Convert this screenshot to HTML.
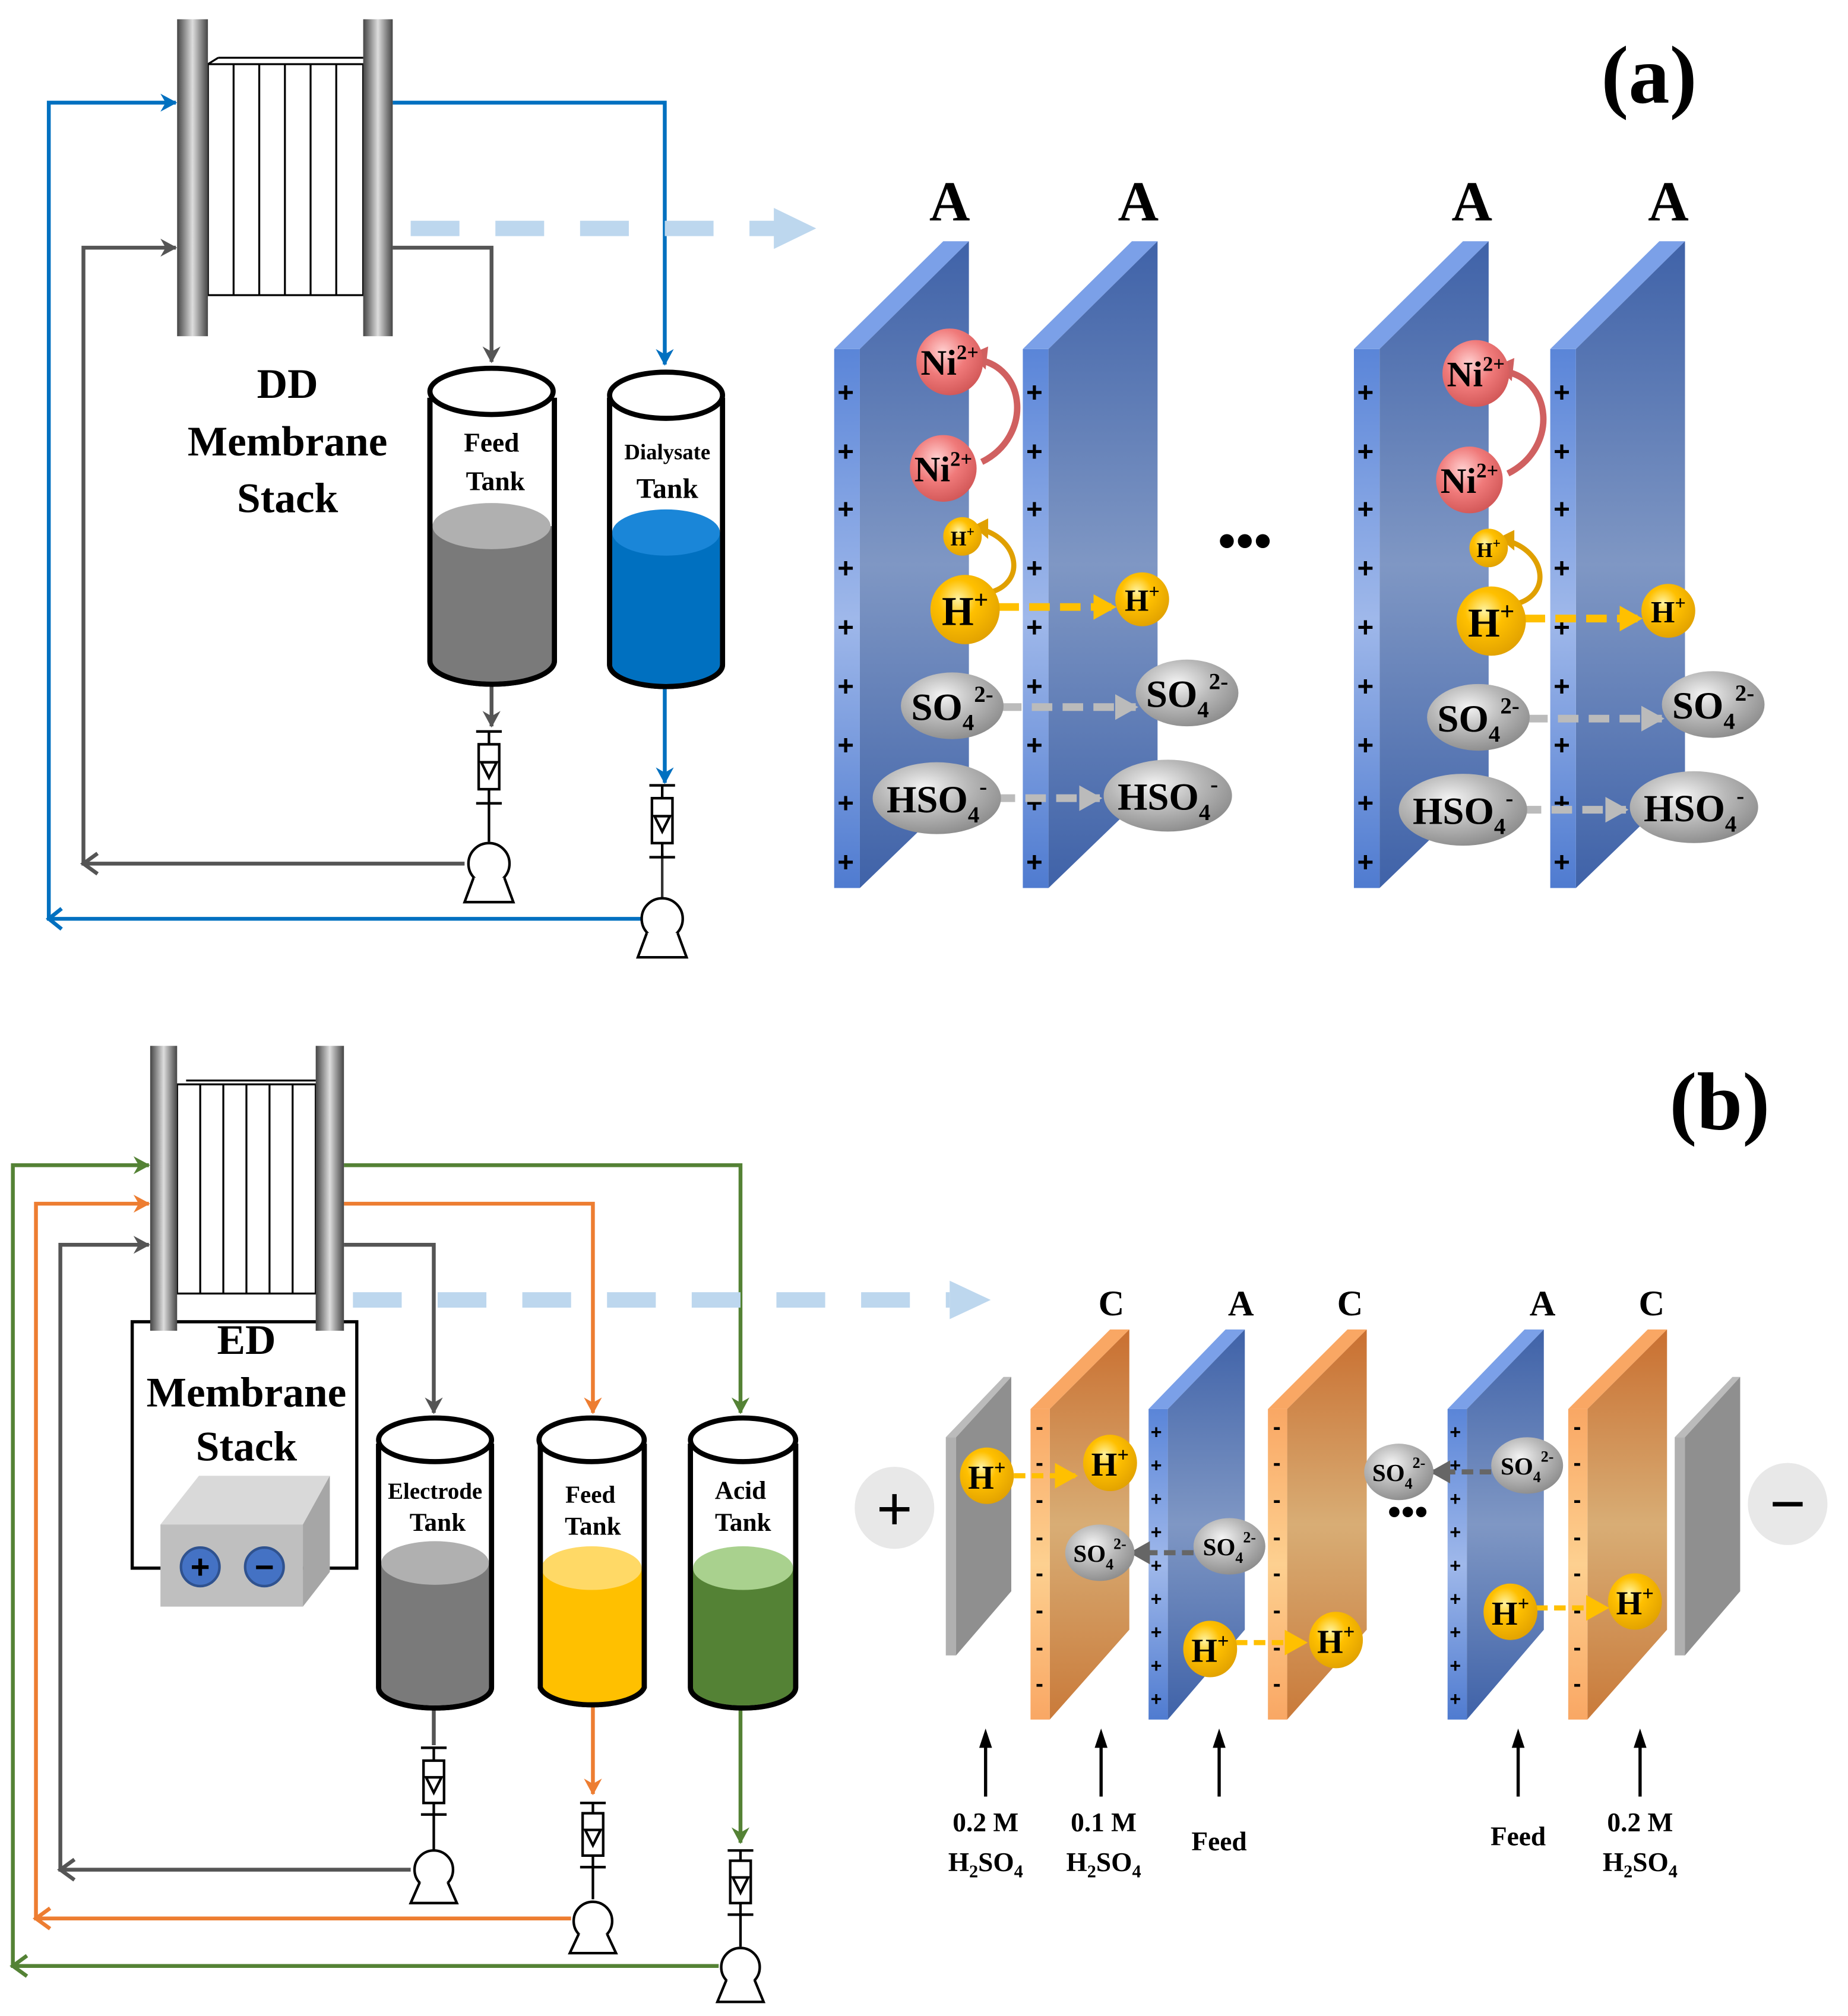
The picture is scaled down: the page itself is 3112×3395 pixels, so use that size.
<!DOCTYPE html>
<html><head><meta charset="utf-8"><style>html,body{margin:0;padding:0;background:#fff}svg{display:block}</style></head><body>
<svg width="3112" height="3395" viewBox="0 0 1440 1571" xmlns="http://www.w3.org/2000/svg" font-family="Liberation Serif, serif" font-weight="bold">
<defs>
<linearGradient id="plate" x1="0" x2="1"><stop offset="0" stop-color="#444"/><stop offset="0.5" stop-color="#ddd"/><stop offset="1" stop-color="#444"/></linearGradient>
<linearGradient id="blueF" x1="0" y1="0" x2="0" y2="1"><stop offset="0" stop-color="#3f62a8"/><stop offset="0.5" stop-color="#7f97c4"/><stop offset="1" stop-color="#3f62a8"/></linearGradient>
<linearGradient id="blueE" x1="0" y1="0" x2="0" y2="1"><stop offset="0" stop-color="#5a85d8"/><stop offset="0.5" stop-color="#9fb8ea"/><stop offset="1" stop-color="#4f7bd0"/></linearGradient>
<linearGradient id="orF" x1="0" y1="0" x2="0" y2="1"><stop offset="0" stop-color="#c96f30"/><stop offset="0.5" stop-color="#d8ad75"/><stop offset="1" stop-color="#c97a3a"/></linearGradient>
<linearGradient id="orE" x1="0" y1="0" x2="0" y2="1"><stop offset="0" stop-color="#f9a764"/><stop offset="0.5" stop-color="#fdd090"/><stop offset="1" stop-color="#f9a764"/></linearGradient>
<radialGradient id="yel" cx="0.4" cy="0.35" r="0.7"><stop offset="0" stop-color="#fff3a0"/><stop offset="0.4" stop-color="#ffc000"/><stop offset="1" stop-color="#e0a000"/></radialGradient>
<radialGradient id="pink" cx="0.4" cy="0.35" r="0.7"><stop offset="0" stop-color="#ffd0d0"/><stop offset="0.5" stop-color="#f07a7a"/><stop offset="1" stop-color="#d05555"/></radialGradient>
<radialGradient id="gry" cx="0.4" cy="0.35" r="0.7"><stop offset="0" stop-color="#f4f4f4"/><stop offset="0.5" stop-color="#b8b8b8"/><stop offset="1" stop-color="#8a8a8a"/></radialGradient>
<marker id="ag" markerWidth="14" markerHeight="14" refX="12" refY="7" orient="auto" markerUnits="userSpaceOnUse"><path d="M0,0 L13,7 L0,14 L4,7z" fill="#555"/></marker>
<marker id="ak" markerWidth="14" markerHeight="14" refX="12" refY="7" orient="auto" markerUnits="userSpaceOnUse"><path d="M0,0 L13,7 L0,14 L4,7z" fill="#0070c0"/></marker>
<marker id="ao" markerWidth="14" markerHeight="14" refX="12" refY="7" orient="auto" markerUnits="userSpaceOnUse"><path d="M0,0 L13,7 L0,14 L4,7z" fill="#ed7d31"/></marker>
<marker id="an" markerWidth="14" markerHeight="14" refX="12" refY="7" orient="auto" markerUnits="userSpaceOnUse"><path d="M0,0 L13,7 L0,14 L4,7z" fill="#548235"/></marker>
<marker id="ay" markerWidth="18" markerHeight="20" refX="16" refY="10" orient="auto" markerUnits="userSpaceOnUse"><path d="M0,0 L18,10 L0,20z" fill="#ffc000"/></marker>
<marker id="agr" markerWidth="18" markerHeight="20" refX="16" refY="10" orient="auto" markerUnits="userSpaceOnUse"><path d="M0,0 L18,10 L0,20z" fill="#bbb"/></marker>
<marker id="adk" markerWidth="16" markerHeight="18" refX="14" refY="9" orient="auto" markerUnits="userSpaceOnUse"><path d="M0,0 L16,9 L0,18z" fill="#666"/></marker>
</defs>

<!-- ============ (a) ============ -->
<g fill="none" stroke-width="3">
<polyline points="306,80 518,80 518,284" stroke="#0070c0" marker-end="url(#ak)"/>
<polyline points="500,716 38,716 38,80 137,80" stroke="#0070c0" marker-end="url(#ak)"/>
<polyline points="518,530 518,610" stroke="#0070c0" marker-end="url(#ak)"/>
<line x1="516" y1="665" x2="516" y2="700" stroke="#333" stroke-width="2"/>
<polyline points="306,193 383,193 383,282" stroke="#555" marker-end="url(#ag)"/>
<polyline points="362,673 65,673 65,193 137,193" stroke="#555" marker-end="url(#ag)"/>
<polyline points="383,530 383,566" stroke="#555" marker-end="url(#ag)"/>
</g>
<path d="M48,708 L38,716 L48,724" stroke="#0070c0" stroke-width="3" fill="none"/>
<path d="M76,665 L65,673 L76,681" stroke="#555" stroke-width="3" fill="none"/>
<g stroke="#000" stroke-width="2" fill="#fff">
<line x1="371" y1="570" x2="391" y2="570"/><line x1="381" y1="570" x2="381" y2="580"/><rect x="373" y="580" width="16" height="35"/><path d="M375,594 L387,594 L381,606z"/><line x1="381" y1="615" x2="381" y2="626"/><line x1="371" y1="626" x2="391" y2="626"/><line x1="381" y1="626" x2="381" y2="656"/>
<circle cx="381" cy="673" r="16"/><path d="M369,684 L362,703 L400,703 L393,684"/>
<line x1="506" y1="612" x2="526" y2="612"/><line x1="516" y1="612" x2="516" y2="622"/><rect x="508" y="622" width="16" height="35"/><path d="M510,636 L522,636 L516,648z"/><line x1="516" y1="657" x2="516" y2="668"/><line x1="506" y1="668" x2="526" y2="668"/>
<circle cx="516" cy="716" r="16"/><path d="M504,727 L497,746 L535,746 L528,727"/>
</g>
<rect x="162" y="50" width="121" height="180" fill="#fff" stroke="#000" stroke-width="1.5"/>
<g stroke="#000" stroke-width="1.5"><line x1="182" y1="50" x2="182" y2="230"/><line x1="202" y1="50" x2="202" y2="230"/><line x1="222" y1="50" x2="222" y2="230"/><line x1="242" y1="50" x2="242" y2="230"/><line x1="262" y1="50" x2="262" y2="230"/>
<line x1="162" y1="50" x2="170" y2="45"/><line x1="170" y1="45" x2="283" y2="45"/></g>
<rect x="138" y="15" width="24" height="247" fill="url(#plate)"/>
<rect x="283" y="15" width="23" height="247" fill="url(#plate)"/>
<text x="224" y="310" font-size="33" text-anchor="middle">DD</text>
<text x="224" y="355" font-size="33" text-anchor="middle">Membrane</text>
<text x="224" y="399" font-size="33" text-anchor="middle">Stack</text>
<path d="M335,310 L335,515 A48,18 0 0 0 432,515 L432,310" fill="#fff" stroke="#000" stroke-width="4"/>
<path d="M337,410 L337,515 A46,16 0 0 0 430,515 L430,410z" fill="#7a7a7a"/>
<ellipse cx="383" cy="410" rx="46" ry="18" fill="#b0b0b0"/>
<path d="M335,310 L335,515 A48,18 0 0 0 432,515 L432,310" fill="none" stroke="#000" stroke-width="4"/>
<ellipse cx="383" cy="305" rx="48" ry="18" fill="#fff" stroke="#000" stroke-width="4"/>
<text x="383" y="352" font-size="21" text-anchor="middle">Feed</text>
<text x="386" y="382" font-size="21" text-anchor="middle">Tank</text>
<path d="M475,310 L475,518 A44,17 0 0 0 563,518 L563,310" fill="#fff" stroke="#000" stroke-width="4"/>
<path d="M477,415 L477,518 A42,15 0 0 0 561,518 L561,415z" fill="#0070c0"/>
<ellipse cx="519" cy="415" rx="42" ry="18" fill="#1a86d8"/>
<path d="M475,310 L475,518 A44,17 0 0 0 563,518 L563,310" fill="none" stroke="#000" stroke-width="4"/>
<ellipse cx="519" cy="308" rx="44" ry="18" fill="#fff" stroke="#000" stroke-width="4"/>
<text x="520" y="358" font-size="17" text-anchor="middle">Dialysate</text>
<text x="520" y="388" font-size="22" text-anchor="middle">Tank</text>
<line x1="320" y1="178" x2="605" y2="178" stroke="#bdd7ee" stroke-width="12" stroke-dasharray="38,28"/>
<path d="M603,162 L636,178 L603,194z" fill="#bdd7ee"/>
<text x="1285" y="80" font-size="64" text-anchor="middle">(a)</text>

<g id="memA">
<polygon points="650,272 735,188 755,188 670,272" fill="#7ba0e8"/>
<polygon points="670,272 755,188 755,610 670,692" fill="url(#blueF)"/>
<rect x="650" y="272" width="20" height="420" fill="url(#blueE)"/>
<g font-size="22" font-family="Liberation Sans, sans-serif" text-anchor="middle"><text x="659" y="313">+</text><text x="659" y="359">+</text><text x="659" y="404">+</text><text x="659" y="450">+</text><text x="659" y="496">+</text><text x="659" y="542">+</text><text x="659" y="588">+</text><text x="659" y="633">+</text><text x="659" y="679">+</text></g>
</g>
<use href="#memA" x="147"/>
<use href="#memA" x="405"/>
<use href="#memA" x="558"/>
<g font-size="44" text-anchor="middle"><text x="740" y="172">A</text><text x="887" y="172">A</text><text x="1147" y="172">A</text><text x="1300" y="172">A</text></g>
<text x="970" y="435" font-size="40" text-anchor="middle">•••</text>

<g id="ionsA">
<path d="M760,280 C800,285 805,340 765,360" stroke="#d06060" stroke-width="5" fill="none"/>
<path d="M756,276 L770,270 L768,288z" fill="#d06060"/>
<path d="M763,412 C795,420 800,455 770,462" stroke="#e0a000" stroke-width="4" fill="none"/>
<path d="M758,410 L770,404 L770,420z" fill="#e0a000"/>
<circle cx="740" cy="282" r="26" fill="url(#pink)"/><text x="740" y="292" font-size="28" text-anchor="middle">Ni<tspan font-size="16" dy="-12">2+</tspan></text>
<circle cx="735" cy="365" r="26" fill="url(#pink)"/><text x="735" y="375" font-size="28" text-anchor="middle">Ni<tspan font-size="16" dy="-12">2+</tspan></text>
<circle cx="750" cy="418" r="15" fill="url(#yel)"/><text x="750" y="425" font-size="16" text-anchor="middle">H<tspan font-size="11" dy="-7">+</tspan></text>
<line x1="778" y1="473" x2="868" y2="473" stroke="#ffc000" stroke-width="6" stroke-dasharray="16,8" marker-end="url(#ay)"/>
<circle cx="752" cy="475" r="27" fill="url(#yel)"/><text x="752" y="487" font-size="32" text-anchor="middle">H<tspan font-size="20" dy="-13">+</tspan></text>
<circle cx="890" cy="467" r="21" fill="url(#yel)"/><text x="890" y="476" font-size="24" text-anchor="middle">H<tspan font-size="15" dy="-10">+</tspan></text>
<line x1="780" y1="551" x2="885" y2="551" stroke="#bbb" stroke-width="6" stroke-dasharray="16,8" marker-end="url(#agr)"/>
<line x1="775" y1="622" x2="857" y2="622" stroke="#bbb" stroke-width="6" stroke-dasharray="16,8" marker-end="url(#agr)"/>
<ellipse cx="742" cy="550" rx="40" ry="26" fill="url(#gry)"/><text x="742" y="561" font-size="30" text-anchor="middle">SO<tspan font-size="18" dy="8">4</tspan><tspan font-size="18" dy="-22">2-</tspan></text>
<ellipse cx="925" cy="540" rx="40" ry="26" fill="url(#gry)"/><text x="925" y="551" font-size="30" text-anchor="middle">SO<tspan font-size="18" dy="8">4</tspan><tspan font-size="18" dy="-22">2-</tspan></text>
<ellipse cx="730" cy="622" rx="50" ry="28" fill="url(#gry)"/><text x="730" y="633" font-size="30" text-anchor="middle">HSO<tspan font-size="18" dy="8">4</tspan><tspan font-size="18" dy="-22">-</tspan></text>
<ellipse cx="910" cy="620" rx="50" ry="28" fill="url(#gry)"/><text x="910" y="631" font-size="30" text-anchor="middle">HSO<tspan font-size="18" dy="8">4</tspan><tspan font-size="18" dy="-22">-</tspan></text>
</g>
<use href="#ionsA" x="410" y="9"/>

<!-- ============ (b) ============ -->
<g fill="none" stroke-width="3">
<polyline points="268,908 577,908 577,1101" stroke="#548235" marker-end="url(#an)"/>
<polyline points="560,1532 10,1532 10,908 116,908" stroke="#548235" marker-end="url(#an)"/>
<polyline points="577,1328 577,1436" stroke="#548235" marker-end="url(#an)"/>
<polyline points="268,938 462,938 462,1101" stroke="#ed7d31" marker-end="url(#ao)"/>
<polyline points="445,1495 28,1495 28,938 116,938" stroke="#ed7d31" marker-end="url(#ao)"/>
<polyline points="462,1328 462,1398" stroke="#ed7d31" marker-end="url(#ao)"/>
<polyline points="268,970 338,970 338,1101" stroke="#555" marker-end="url(#ag)"/>
<polyline points="320,1457 47,1457 47,970 116,970" stroke="#555" marker-end="url(#ag)"/>
<polyline points="338,1325 338,1360" stroke="#555"/>
</g>
<path d="M21,1524 L10,1532 L21,1540" stroke="#548235" stroke-width="3" fill="none"/>
<path d="M39,1487 L28,1495 L39,1503" stroke="#ed7d31" stroke-width="3" fill="none"/>
<path d="M58,1449 L47,1457 L58,1465" stroke="#555" stroke-width="3" fill="none"/>
<g stroke="#000" stroke-width="2" fill="#fff">
<line x1="328" y1="1362" x2="348" y2="1362"/><line x1="338" y1="1362" x2="338" y2="1372"/><rect x="330" y="1372" width="16" height="33"/><path d="M332,1385 L344,1385 L338,1397z"/><line x1="338" y1="1405" x2="338" y2="1414"/><line x1="328" y1="1414" x2="348" y2="1414"/><line x1="338" y1="1414" x2="338" y2="1442"/>
<circle cx="338" cy="1457" r="15"/><path d="M327,1467 L320,1483 L356,1483 L349,1467"/>
<line x1="452" y1="1405" x2="472" y2="1405"/><line x1="462" y1="1405" x2="462" y2="1413"/><rect x="454" y="1413" width="16" height="33"/><path d="M456,1426 L468,1426 L462,1438z"/><line x1="462" y1="1446" x2="462" y2="1455"/><line x1="452" y1="1455" x2="472" y2="1455"/><line x1="462" y1="1455" x2="462" y2="1480"/>
<circle cx="462" cy="1497" r="15"/><path d="M451,1507 L444,1522 L480,1522 L473,1507"/>
<line x1="567" y1="1442" x2="587" y2="1442"/><line x1="577" y1="1442" x2="577" y2="1450"/><rect x="569" y="1450" width="16" height="33"/><path d="M571,1463 L583,1463 L577,1475z"/><line x1="577" y1="1483" x2="577" y2="1492"/><line x1="567" y1="1492" x2="587" y2="1492"/><line x1="577" y1="1492" x2="577" y2="1517"/>
<circle cx="577" cy="1533" r="15"/><path d="M566,1543 L559,1560 L595,1560 L588,1543"/>
</g>
<rect x="103" y="1030" width="175" height="192" fill="none" stroke="#000" stroke-width="2.5"/>
<rect x="138" y="845" width="108" height="163" fill="#fff" stroke="#000" stroke-width="1.5"/>
<g stroke="#000" stroke-width="1.5"><line x1="156" y1="845" x2="156" y2="1008"/><line x1="174" y1="845" x2="174" y2="1008"/><line x1="192" y1="845" x2="192" y2="1008"/><line x1="210" y1="845" x2="210" y2="1008"/><line x1="228" y1="845" x2="228" y2="1008"/><line x1="145" y1="842" x2="246" y2="842"/></g>
<rect x="117" y="815" width="21" height="222" fill="url(#plate)"/>
<rect x="246" y="815" width="22" height="222" fill="url(#plate)"/>
<rect x="112" y="1038" width="160" height="108" fill="#fff"/>
<text x="192" y="1055" font-size="33" text-anchor="middle">ED</text>
<text x="192" y="1096" font-size="33" text-anchor="middle">Membrane</text>
<text x="192" y="1138" font-size="33" text-anchor="middle">Stack</text>
<polygon points="125,1188 155,1150 257,1150 236,1188" fill="#d9d9d9"/>
<polygon points="236,1188 257,1150 257,1225 236,1252" fill="#a6a6a6"/>
<rect x="125" y="1188" width="111" height="64" fill="#bfbfbf"/>
<circle cx="156" cy="1221" r="15" fill="#4472c4" stroke="#2f528f" stroke-width="2"/><text x="156" y="1230" font-size="26" font-family="Liberation Sans, sans-serif" text-anchor="middle">+</text>
<circle cx="206" cy="1221" r="15" fill="#4472c4" stroke="#2f528f" stroke-width="2"/><text x="206" y="1230" font-size="26" font-family="Liberation Sans, sans-serif" text-anchor="middle">−</text>
<g stroke-width="4">
<path d="M295,1125 L295,1315 A44,16 0 0 0 383,1315 L383,1125" fill="#fff" stroke="#000"/>
<path d="M297,1218 L297,1315 A42,14 0 0 0 381,1315 L381,1218z" fill="#7a7a7a" stroke="none"/>
<ellipse cx="339" cy="1218" rx="42" ry="17" fill="#b0b0b0" stroke="none"/>
<path d="M295,1125 L295,1315 A44,16 0 0 0 383,1315 L383,1125" fill="none" stroke="#000"/>
<ellipse cx="339" cy="1122" rx="44" ry="17" fill="#fff" stroke="#000"/>
<path d="M421,1125 L421,1315 A41,16 0 0 0 502,1315 L502,1125" fill="#fff" stroke="#000"/>
<path d="M423,1222 L423,1315 A39,14 0 0 0 500,1315 L500,1222z" fill="#ffc000" stroke="none"/>
<ellipse cx="461" cy="1222" rx="39" ry="17" fill="#ffd966" stroke="none"/>
<path d="M421,1125 L421,1315 A41,16 0 0 0 502,1315 L502,1125" fill="none" stroke="#000"/>
<ellipse cx="461" cy="1122" rx="41" ry="17" fill="#fff" stroke="#000"/>
<path d="M538,1125 L538,1315 A41,16 0 0 0 620,1315 L620,1125" fill="#fff" stroke="#000"/>
<path d="M540,1222 L540,1315 A39,14 0 0 0 618,1315 L618,1222z" fill="#548235" stroke="none"/>
<ellipse cx="579" cy="1222" rx="39" ry="17" fill="#a9d18e" stroke="none"/>
<path d="M538,1125 L538,1315 A41,16 0 0 0 620,1315 L620,1125" fill="none" stroke="#000"/>
<ellipse cx="579" cy="1122" rx="41" ry="17" fill="#fff" stroke="#000"/>
</g>
<text x="339" y="1168" font-size="18" text-anchor="middle">Electrode</text>
<text x="341" y="1193" font-size="20" text-anchor="middle">Tank</text>
<text x="460" y="1171" font-size="19" text-anchor="middle">Feed</text>
<text x="462" y="1196" font-size="20" text-anchor="middle">Tank</text>
<text x="577" y="1168" font-size="20" text-anchor="middle">Acid</text>
<text x="579" y="1193" font-size="20" text-anchor="middle">Tank</text>
<line x1="275" y1="1013" x2="740" y2="1013" stroke="#bdd7ee" stroke-width="12" stroke-dasharray="38,28"/>
<path d="M740,998 L772,1013 L740,1028z" fill="#bdd7ee"/>
<text x="1340" y="880" font-size="64" text-anchor="middle">(b)</text>

<ellipse cx="697" cy="1175" rx="31" ry="32" fill="#e8e8e8"/><text x="697" y="1192" font-size="48" font-family="Liberation Sans, sans-serif" font-weight="normal" text-anchor="middle">+</text>
<ellipse cx="1393" cy="1172" rx="31" ry="32" fill="#e8e8e8"/><text x="1393" y="1188" font-size="48" font-family="Liberation Sans, sans-serif" font-weight="normal" text-anchor="middle">−</text>
<g id="grayP"><polygon points="737,1120 782,1073 788,1073 745,1120" fill="#bbb"/><polygon points="745,1120 788,1073 788,1240 745,1290" fill="#8f8f8f"/><rect x="737" y="1120" width="8" height="170" fill="#b0b0b0"/></g>
<use href="#grayP" x="568"/>
<g id="orP"><polygon points="803,1098 865,1036 880,1036 818,1098" fill="#f9a764"/><polygon points="818,1098 880,1036 880,1270 818,1340" fill="url(#orF)"/><rect x="803" y="1098" width="15" height="242" fill="url(#orE)"/>
<g font-size="18" font-family="Liberation Sans, sans-serif" text-anchor="middle"><text x="810" y="1118">-</text><text x="810" y="1146">-</text><text x="810" y="1175">-</text><text x="810" y="1204">-</text><text x="810" y="1232">-</text><text x="810" y="1261">-</text><text x="810" y="1290">-</text><text x="810" y="1318">-</text></g></g>
<use href="#orP" x="185"/>
<use href="#orP" x="419"/>
<g id="blP"><polygon points="895,1098 955,1036 970,1036 910,1098" fill="#7ba0e8"/><polygon points="910,1098 970,1036 970,1270 910,1340" fill="url(#blueF)"/><rect x="895" y="1098" width="15" height="242" fill="url(#blueE)"/>
<g font-size="15" font-family="Liberation Sans, sans-serif" text-anchor="middle"><text x="901" y="1121">+</text><text x="901" y="1147">+</text><text x="901" y="1173">+</text><text x="901" y="1199">+</text><text x="901" y="1225">+</text><text x="901" y="1251">+</text><text x="901" y="1277">+</text><text x="901" y="1303">+</text><text x="901" y="1329">+</text></g></g>
<use href="#blP" x="233"/>
<g font-size="28" text-anchor="middle"><text x="866" y="1025">C</text><text x="967" y="1025">A</text><text x="1052" y="1025">C</text><text x="1202" y="1025">A</text><text x="1287" y="1025">C</text></g>
<text x="1097" y="1188" font-size="30" text-anchor="middle">•••</text>
<g font-size="26" text-anchor="middle">
<line x1="790" y1="1150" x2="838" y2="1150" stroke="#ffc000" stroke-width="4" stroke-dasharray="9,5" marker-end="url(#ay)"/>
<ellipse cx="769" cy="1150" rx="21" ry="22" fill="url(#yel)"/><text x="769" y="1160">H<tspan font-size="16" dy="-11">+</tspan></text>
<ellipse cx="865" cy="1140" rx="21" ry="22" fill="url(#yel)"/><text x="865" y="1150">H<tspan font-size="16" dy="-11">+</tspan></text>
<line x1="963" y1="1280" x2="1017" y2="1280" stroke="#ffc000" stroke-width="4" stroke-dasharray="9,5" marker-end="url(#ay)"/>
<ellipse cx="943" cy="1285" rx="21" ry="22" fill="url(#yel)"/><text x="943" y="1295">H<tspan font-size="16" dy="-11">+</tspan></text>
<ellipse cx="1041" cy="1278" rx="21" ry="22" fill="url(#yel)"/><text x="1041" y="1288">H<tspan font-size="16" dy="-11">+</tspan></text>
<line x1="1197" y1="1253" x2="1252" y2="1253" stroke="#ffc000" stroke-width="4" stroke-dasharray="9,5" marker-end="url(#ay)"/>
<ellipse cx="1177" cy="1256" rx="21" ry="22" fill="url(#yel)"/><text x="1177" y="1266">H<tspan font-size="16" dy="-11">+</tspan></text>
<ellipse cx="1274" cy="1248" rx="21" ry="22" fill="url(#yel)"/><text x="1274" y="1258">H<tspan font-size="16" dy="-11">+</tspan></text>
<line x1="930" y1="1210" x2="882" y2="1210" stroke="#666" stroke-width="4" stroke-dasharray="9,5" marker-end="url(#adk)"/>
<ellipse cx="857" cy="1210" rx="27" ry="22" fill="url(#gry)"/><text x="857" y="1217" font-size="19">SO<tspan font-size="12" dy="6">4</tspan><tspan font-size="12" dy="-16">2-</tspan></text>
<ellipse cx="958" cy="1205" rx="28" ry="22" fill="url(#gry)"/><text x="958" y="1212" font-size="19">SO<tspan font-size="12" dy="6">4</tspan><tspan font-size="12" dy="-16">2-</tspan></text>
<line x1="1162" y1="1147" x2="1116" y2="1147" stroke="#666" stroke-width="4" stroke-dasharray="9,5" marker-end="url(#adk)"/>
<ellipse cx="1090" cy="1147" rx="27" ry="22" fill="url(#gry)"/><text x="1090" y="1154" font-size="19">SO<tspan font-size="12" dy="6">4</tspan><tspan font-size="12" dy="-16">2-</tspan></text>
<ellipse cx="1190" cy="1142" rx="28" ry="22" fill="url(#gry)"/><text x="1190" y="1149" font-size="19">SO<tspan font-size="12" dy="6">4</tspan><tspan font-size="12" dy="-16">2-</tspan></text>
</g>
<g stroke="#000" stroke-width="2.5">
<line x1="768" y1="1400" x2="768" y2="1358"/>
<line x1="858" y1="1400" x2="858" y2="1358"/>
<line x1="950" y1="1400" x2="950" y2="1358"/>
<line x1="1183" y1="1400" x2="1183" y2="1358"/>
<line x1="1278" y1="1400" x2="1278" y2="1358"/>
</g>
<g fill="#000">
<path d="M763,1362 L768,1347 L773,1362z"/>
<path d="M853,1362 L858,1347 L863,1362z"/>
<path d="M945,1362 L950,1347 L955,1362z"/>
<path d="M1178,1362 L1183,1347 L1188,1362z"/>
<path d="M1273,1362 L1278,1347 L1283,1362z"/>
</g>
<g font-size="21" text-anchor="middle">
<text x="768" y="1427">0.2 M</text><text x="768" y="1458">H<tspan font-size="14" dy="5">2</tspan><tspan dy="-5">SO</tspan><tspan font-size="14" dy="5">4</tspan></text>
<text x="860" y="1427">0.1 M</text><text x="860" y="1458">H<tspan font-size="14" dy="5">2</tspan><tspan dy="-5">SO</tspan><tspan font-size="14" dy="5">4</tspan></text>
<text x="950" y="1442">Feed</text>
<text x="1183" y="1438">Feed</text>
<text x="1278" y="1427">0.2 M</text><text x="1278" y="1458">H<tspan font-size="14" dy="5">2</tspan><tspan dy="-5">SO</tspan><tspan font-size="14" dy="5">4</tspan></text>
</g>
</svg>
</body></html>
